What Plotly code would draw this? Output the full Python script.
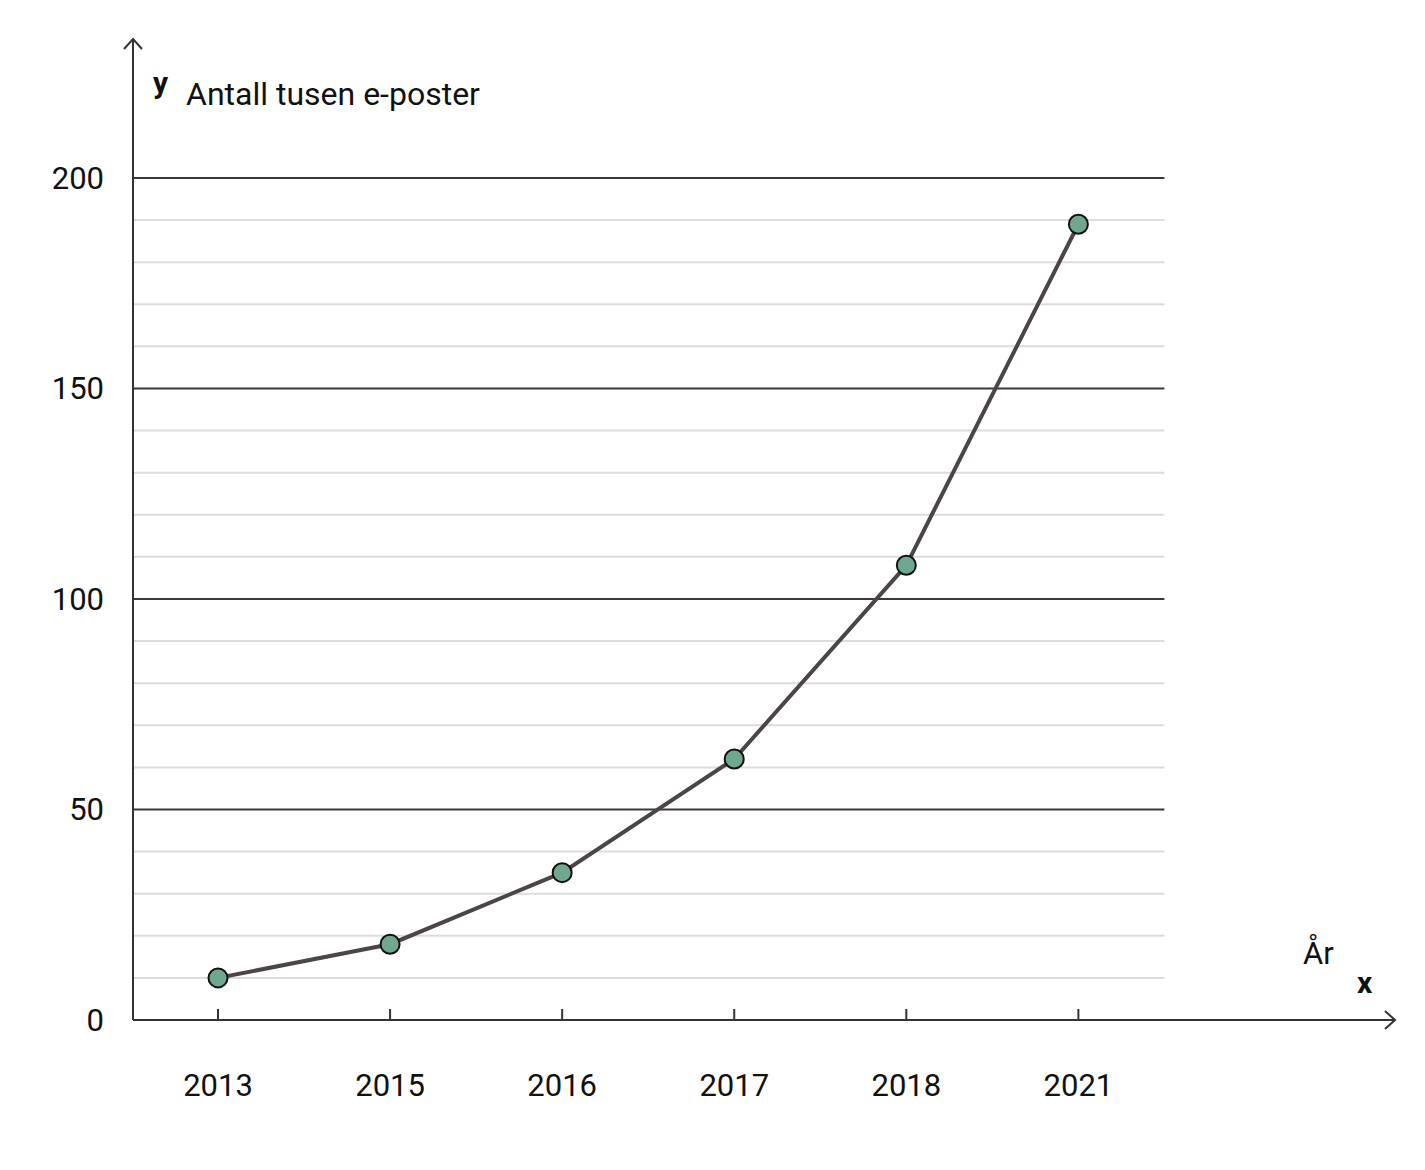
import plotly.graph_objects as go

years = ["2013", "2015", "2016", "2017", "2018", "2021"]
emails = [10, 18, 35, 62, 108, 189]
major_ticks = [0, 50, 100, 150, 200]
minor_lines = [10, 20, 30, 40, 60, 70, 80, 90, 110, 120, 130, 140, 160, 170, 180, 190]

xs = list(range(len(years)))
x_lo, x_hi, grid_end = -0.494, 6.84, 5.5

fig = go.Figure()
fig.add_trace(go.Scatter(
    x=xs, y=emails, mode="lines+markers",
    line=dict(color="#4b4547", width=4),
    marker=dict(size=19, color="#70a88f", line=dict(color="#111", width=2)),
    cliponaxis=False, showlegend=False,
))

shapes = []
for v in minor_lines:
    shapes.append(dict(type="line", xref="x", yref="y", x0=x_lo, x1=grid_end, y0=v, y1=v,
                       line=dict(color="#dcdcdc", width=2), layer="below"))
for v in major_ticks[1:]:
    shapes.append(dict(type="line", xref="x", yref="y", x0=x_lo, x1=grid_end, y0=v, y1=v,
                       line=dict(color="#3a3a3a", width=2), layer="below"))
# x tick marks crossing the axis
for x in xs:
    shapes.append(dict(type="line", xref="x", yref="y", ysizemode="pixel", yanchor=0,
                       x0=x, x1=x, y0=11, y1=-11, line=dict(color="#333", width=2)))
# axes lines
shapes.append(dict(type="line", xref="paper", yref="paper", x0=0, x1=1, y0=0, y1=0,
                   line=dict(color="#333", width=2)))
shapes.append(dict(type="line", xref="paper", yref="paper", x0=0, x1=0, y0=0, y1=1,
                   line=dict(color="#333", width=2)))
# arrow chevrons
shapes.append(dict(type="path", xref="paper", yref="paper", xsizemode="pixel", ysizemode="pixel",
                   xanchor=1, yanchor=0, path="M -10 9 L 0 0 L -10 -9",
                   line=dict(color="#333", width=2)))
shapes.append(dict(type="path", xref="paper", yref="paper", xsizemode="pixel", ysizemode="pixel",
                   xanchor=0, yanchor=1, path="M -9 -10 L 0 0 L 9 -10",
                   line=dict(color="#333", width=2)))

font = "Roboto, Arial, sans-serif"
annotations = [
    dict(text="<b>y</b>", xref="paper", yref="paper", x=0, y=1, xshift=18, yshift=-24,
         showarrow=False, font=dict(size=30, color="#111")),
    dict(text="Antall tusen e-poster", xref="paper", yref="paper", x=0, y=1, xanchor="left",
         xshift=51, yshift=-34, showarrow=False, font=dict(size=32, color="#111")),
    dict(text="År", xref="paper", yref="paper", x=1, y=0, xanchor="center", xshift=-77,
         yshift=46, showarrow=False, font=dict(size=31, color="#111")),
    dict(text="<b>x</b>", xref="paper", yref="paper", x=1, y=0, xanchor="center", xshift=-30,
         yshift=18, showarrow=False, font=dict(size=30, color="#111")),
]

fig.update_layout(
    width=1425, height=1170,
    margin=dict(l=125, r=38, t=31, b=158),
    plot_bgcolor="white", paper_bgcolor="white",
    font=dict(family=font, size=31, color="#111"),
    shapes=shapes, annotations=annotations,
    xaxis=dict(range=[x_lo, x_hi], tickvals=xs, ticktext=years, showgrid=False,
               zeroline=False, showline=False, ticks="", ticklabelstandoff=44),
    yaxis=dict(range=[0, 233], tickvals=major_ticks, showgrid=False, zeroline=False,
               showline=False, ticks="", ticklabelstandoff=28),
)

fig.write_html("out.html")
